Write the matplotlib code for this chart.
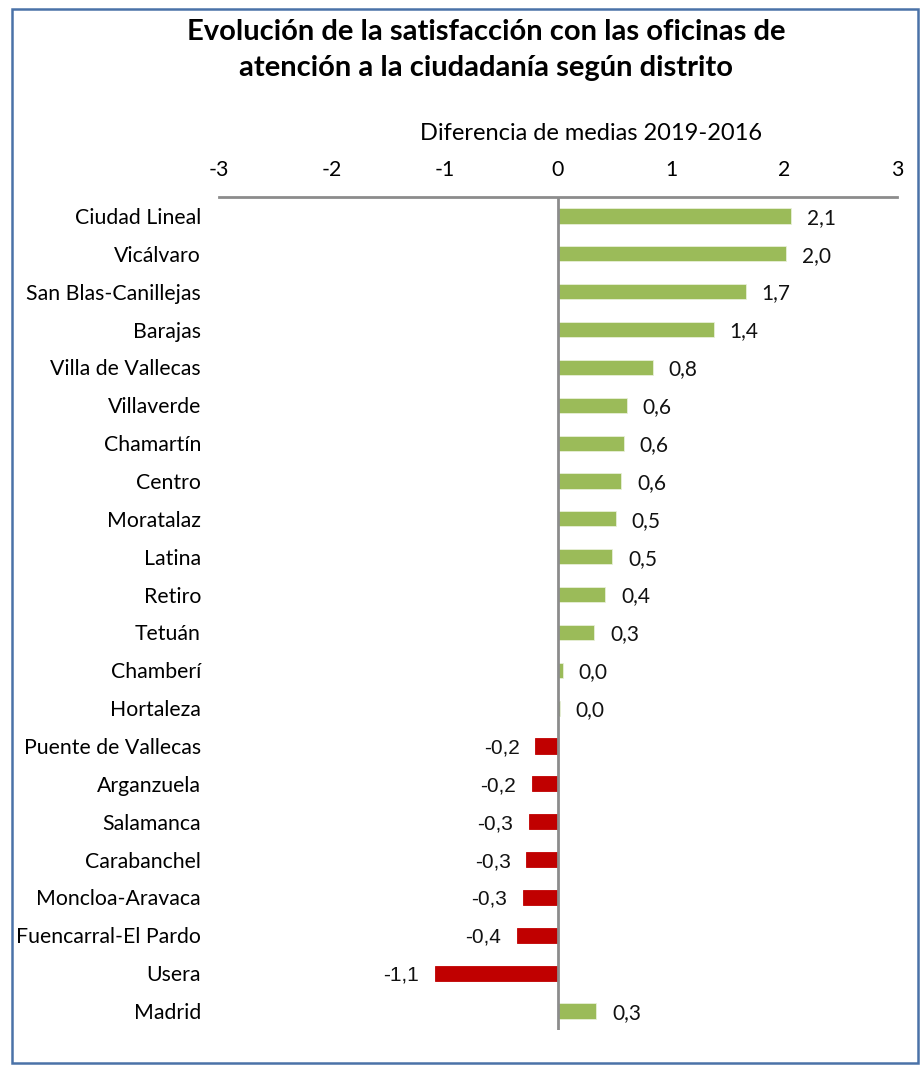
import matplotlib
matplotlib.use('Agg')
import matplotlib.pyplot as plt
from matplotlib.patches import Rectangle

distritos = ['Ciudad Lineal', 'Vicálvaro', 'San Blas-Canillejas', 'Barajas',
             'Villa de Vallecas', 'Villaverde', 'Chamartín', 'Centro',
             'Moratalaz', 'Latina', 'Retiro', 'Tetuán', 'Chamberí',
             'Hortaleza', 'Puente de Vallecas', 'Arganzuela', 'Salamanca',
             'Carabanchel', 'Moncloa-Aravaca', 'Fuencarral-El Pardo',
             'Usera', 'Madrid']
diferencias = [2.06, 2.02, 1.66, 1.38, 0.84, 0.61, 0.58, 0.56, 0.51, 0.48,
               0.42, 0.32, 0.04, 0.015, -0.20, -0.23, -0.26, -0.28, -0.31,
               -0.36, -1.09, 0.34]
ticks = [-3, -2, -1, 0, 1, 2, 3]

verde = '#9BBB59'
rojo = '#C00000'

plt.rcParams['font.family'] = ['Lato', 'DejaVu Sans']

fig = plt.figure(figsize=(9.23, 10.66), dpi=100)
ax = fig.add_axes([219/923, 1 - 1030/1066, (897-219)/923, (1030-197)/1066])

y = list(range(len(distritos)))
colores = [verde if v >= 0 else rojo for v in diferencias]
bordes = ['#e8f0d8' if v >= 0 else rojo for v in diferencias]
ax.barh(y, diferencias, height=0.4, color=colores, edgecolor=bordes,
        linewidth=0.6)

for yi, v in zip(y, diferencias):
    txt = f'{v:.1f}'.replace('.', ',')
    if v >= 0:
        ax.text(v + 0.14, yi + 0.05, txt, ha='left', va='center', fontsize=15,
                color='#111111')
    else:
        ax.text(v - 0.14, yi + 0.05, txt, ha='right', va='center', fontsize=15,
                family=['Liberation Sans', 'DejaVu Sans'], color='#111111')

ax.set_xlim(-3, 3)
ax.set_ylim(len(distritos) - 0.5, -0.5)
ax.set_yticks(y)
ax.set_yticklabels(distritos, fontsize=15.3)
ax.set_xticks(ticks)
ax.set_xticklabels([str(t) for t in ticks], fontsize=15.3)
ax.xaxis.tick_top()
ax.tick_params(axis='both', length=0)
ax.tick_params(axis='x', pad=12)
ax.tick_params(axis='y', pad=13)
for s in ['bottom', 'left', 'right']:
    ax.spines[s].set_visible(False)
ax.spines['top'].set_color('#8c8c8c')
ax.spines['top'].set_linewidth(2)
ax.axvline(0, color='#8c8c8c', linewidth=2, zorder=3)

fig.text(591/923, 1 - 134/1066, 'Diferencia de medias 2019-2016',
         ha='center', va='center', fontsize=17)
fig.text(486/923, 1 - 50/1066,
         'Evolución de la satisfacción con las oficinas de\natención a la ciudadanía según distrito',
         ha='center', va='center', fontsize=21, fontweight='bold',
         linespacing=1.45)

fig.patches.append(Rectangle((12/923, 1 - 1063/1066), (918-12)/923, (1063-9)/1066,
                             transform=fig.transFigure, fill=False,
                             edgecolor='#4A72A8', linewidth=1.8))

fig.savefig('out.png', dpi=100)
